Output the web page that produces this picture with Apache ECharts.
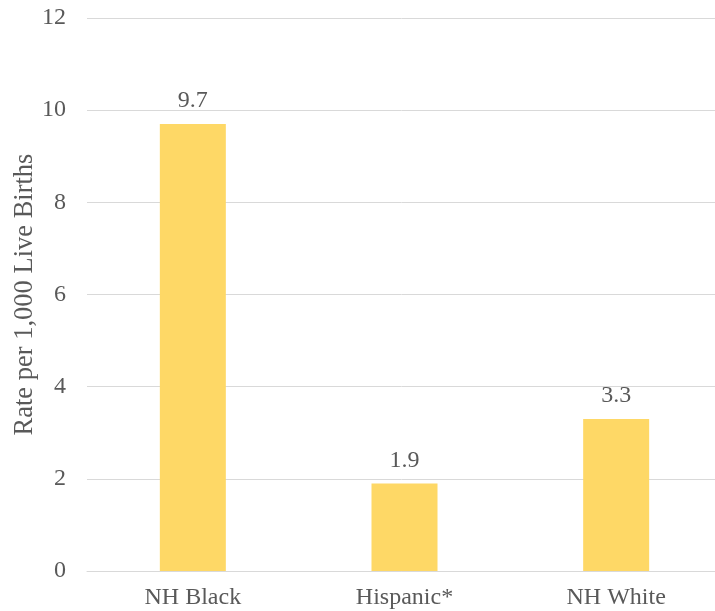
<!DOCTYPE html>
<html>
<head>
<meta charset="utf-8">
<script src="https://cdn.jsdelivr.net/npm/echarts@6/dist/echarts.min.js"></script>
<style>
  html, body { margin: 0; padding: 0; background: #fff; }
  #chart { width: 715px; height: 611px; }
</style>
</head>
<body>
<div id="chart"></div>
<script>
// Rate per 1,000 live births by race/ethnicity
const categories = ['NH Black', 'Hispanic*', 'NH White'];
const rates = [9.7, 1.9, 3.3];
const yTicks = { min: 0, max: 12, interval: 2 };

const FONT = '"Liberation Serif", "Times New Roman", serif';
const TEXT = '#595959';

const chart = echarts.init(document.getElementById('chart'));
chart.setOption({
  animation: false,
  grid: {
    left: 87, top: 18, width: 635, bottom: 40,
    containLabel: false,
    outerBoundsMode: 'none'
  },
  xAxis: {
    type: 'category',
    data: categories,
    axisLine: { show: true, lineStyle: { color: '#d9d9d9', width: 1 } },
    axisTick: { show: false },
    axisLabel: { color: TEXT, fontFamily: FONT, fontSize: 24, margin: 15 }
  },
  yAxis: {
    type: 'value',
    min: yTicks.min,
    max: yTicks.max,
    interval: yTicks.interval,
    name: 'Rate per 1,000 Live Births',
    nameLocation: 'middle',
    nameGap: 48,
    nameMoveOverlap: false,
    nameTextStyle: { color: TEXT, fontFamily: FONT, fontSize: 26.5 },
    axisLine: { show: false },
    axisTick: { show: false },
    axisLabel: { color: TEXT, fontFamily: FONT, fontSize: 24, margin: 21 },
    splitLine: { lineStyle: { color: '#d9d9d9', width: 1 } }
  },
  series: [{
    type: 'bar',
    data: rates,
    barWidth: 66,
    itemStyle: { color: '#FED866' },
    label: {
      show: true,
      position: 'top',
      distance: 11,
      color: TEXT,
      fontFamily: FONT,
      fontSize: 24,
      formatter: p => p.value.toFixed(1)
    }
  }]
});
</script>
</body>
</html>
